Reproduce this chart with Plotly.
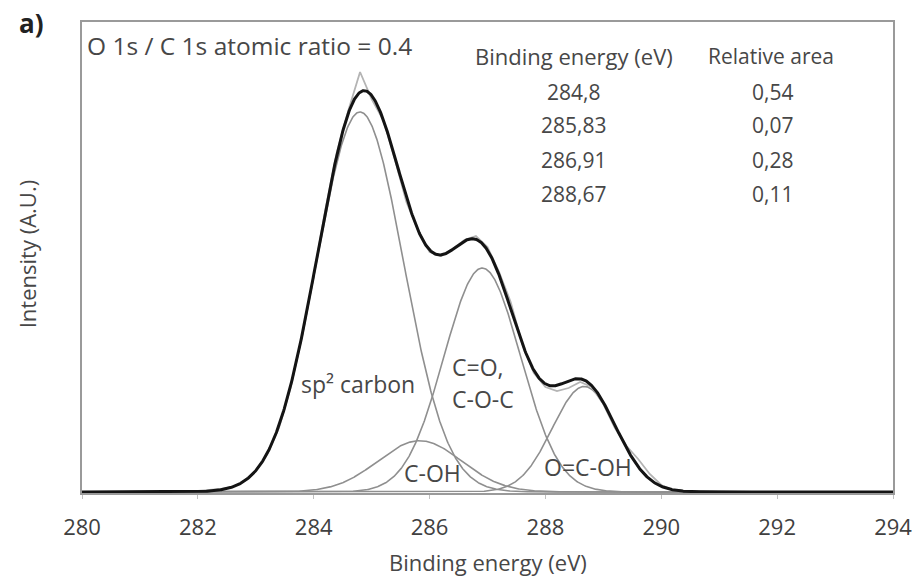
import numpy as np
import plotly.graph_objects as go

# C 1s peak fit: positions (eV) and relative areas, plus fitted Gaussian widths (sigma, eV)
peak_centers = [284.8, 285.83, 286.91, 288.67]
relative_areas = [0.54, 0.07, 0.28, 0.11]
peak_sigmas = [0.75, 0.72, 0.66, 0.55]
total_area = 1323.0  # integrated C 1s intensity (A.U.)

# Measured spectrum (A.U.)
raw_energy = [280.0, 280.5, 281.0, 281.5, 282.0, 282.2, 282.4, 282.6, 282.8, 283.0,
              283.2, 283.4, 283.6, 283.8, 284.0, 284.2, 284.4, 284.6, 284.8, 285.0,
              285.2, 285.4, 285.6, 285.8, 286.0, 286.2, 286.4, 286.6, 286.8, 287.0,
              287.2, 287.4, 287.6, 287.8, 288.0, 288.2, 288.4, 288.6, 288.8, 289.0,
              289.2, 289.4, 289.6, 289.8, 290.0, 290.2, 290.4, 291.0, 292.0, 293.0, 294.0]
raw_counts = [0, 0, 0, 0, 1, 2, 3, 5, 11, 21,
              38, 64, 104, 156, 216, 282, 340, 382, 420, 393,
              372, 333, 290, 262, 240, 236, 243, 252, 256, 245,
              220, 190, 148, 119, 105, 101, 104, 110, 105, 88,
              64, 46, 33, 18, 7, 2, 1, 0, 0, 0, 0]

x_ticks = [280, 282, 284, 286, 288, 290, 292, 294]

# Table entries, decimal comma
table_energy = [f"{c:g}".replace(".", ",") for c in peak_centers]
table_area = [f"{a:.2f}".replace(".", ",") for a in relative_areas]

energy = np.linspace(280, 294, 1401)


def gaussian(x, center, area, sigma):
    height = area * total_area / (sigma * np.sqrt(2 * np.pi))
    return height * np.exp(-((x - center) ** 2) / (2 * sigma ** 2))


components = [gaussian(energy, c, a, s) for c, a, s in zip(peak_centers, relative_areas, peak_sigmas)]
envelope = np.sum(components, axis=0)

fig = go.Figure()
for comp in components:
    fig.add_trace(go.Scatter(x=energy, y=comp, mode="lines",
                             line=dict(color="#8f8f8f", width=1.6), hoverinfo="skip"))
fig.add_trace(go.Scatter(x=raw_energy, y=raw_counts, mode="lines",
                         line=dict(color="#b4b4b4", width=1.8), hoverinfo="skip"))
fig.add_trace(go.Scatter(x=energy, y=envelope, mode="lines",
                         line=dict(color="#141414", width=3), hoverinfo="skip"))

L, R, T, B = 82, 11, 22, 86
W, H = 923, 579
pw, ph = W - L - R, H - T - B


def px(xp, yp):
    return (xp - L) / pw, (H - B - yp) / ph


text_color = "#474747"
font_family = "Open Sans"
annotations = []


def add_text(xp, yp, text, size, **kw):
    ax, ay = px(xp, yp)
    annotations.append(dict(x=ax, y=ay, xref="paper", yref="paper", text=text, showarrow=False,
                            font=dict(size=size, color=kw.pop("color", text_color), family=font_family),
                            xanchor=kw.pop("xanchor", "center"), yanchor="middle", **kw))


add_text(30, 23, "<b>a)</b>", 26, color="#222222")
add_text(85, 46, "O 1s / C 1s atomic ratio = 0.4", 24.5, xanchor="left")
add_text(586, 56, "Binding energy (eV)", 22)
add_text(787, 56, "Relative area", 21)
row_y = [92, 125, 160, 194]
for ry, e_txt, a_txt in zip(row_y, table_energy, table_area):
    add_text(585, ry, e_txt, 21)
    add_text(789, ry, a_txt, 21)

add_text(498, 562, "Binding energy (eV)", 22)
add_text(26, 254, "Intensity (A.U.)", 22, textangle=-90)


# Component labels in data coordinates
def add_label(x, y, text, size=23, xanchor="center"):
    annotations.append(dict(x=x, y=y, xref="x", yref="y", text=text, showarrow=False,
                            font=dict(size=size, color=text_color, family=font_family),
                            xanchor=xanchor, yanchor="middle"))


add_label(284.76, 108, "sp² carbon")
add_label(286.36, 125, "C=O,", xanchor="left")
add_label(286.36, 93, "C-O-C", xanchor="left")
add_label(286.05, 19, "C-OH")
add_label(288.74, 25, "O=C-OH")

frame_color = "#9a9a9a"
fig.update_layout(
    width=W, height=H,
    margin=dict(l=L, r=R, t=T, b=B, pad=0),
    paper_bgcolor="white", plot_bgcolor="white",
    showlegend=False,
    annotations=annotations,
    xaxis=dict(range=[280, 294], tickvals=x_ticks, ticktext=[str(t) for t in x_ticks],
               showgrid=False, zeroline=False, showline=True, linecolor=frame_color, linewidth=2,
               mirror=True, ticks="outside", ticklen=4, tickcolor="#c0c0c0",
               ticklabelstandoff=10, ticklabeloverflow="allow",
               tickfont=dict(size=22, color="#404040", family=font_family)),
    yaxis=dict(range=[-1, 470], showticklabels=False, showgrid=False, zeroline=False,
               showline=True, linecolor=frame_color, linewidth=2, mirror=True, ticks=""),
)

fig.write_html("out.html")
